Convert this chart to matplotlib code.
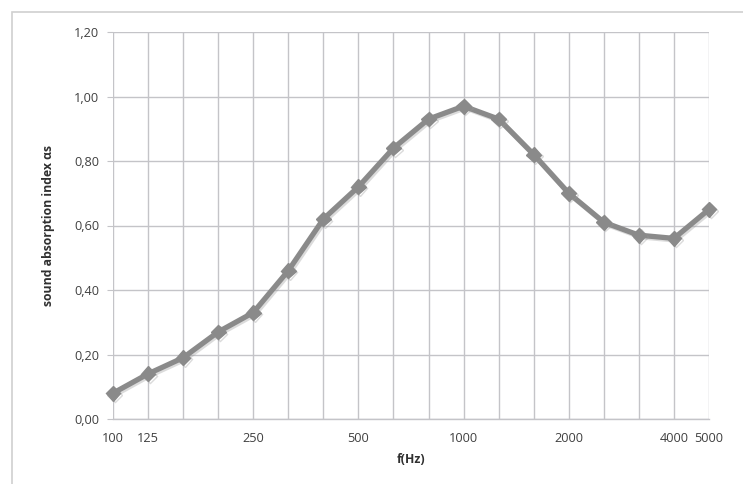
import matplotlib
matplotlib.use("Agg")
import matplotlib.pyplot as plt
import matplotlib.patheffects as pe
from matplotlib.patches import Rectangle

freqs = ["100", "125", "160", "200", "250", "315", "400", "500", "630", "800",
         "1000", "1250", "1600", "2000", "2500", "3150", "4000", "5000"]
shown_labels = ["100", "125", "", "", "250", "", "", "500", "", "",
                "1000", "", "", "2000", "", "", "4000", "5000"]
alpha_s = [0.08, 0.14, 0.19, 0.27, 0.33, 0.46, 0.62, 0.72, 0.84, 0.93,
           0.97, 0.93, 0.82, 0.70, 0.61, 0.57, 0.56, 0.65]
yticks = [0.0, 0.2, 0.4, 0.6, 0.8, 1.0, 1.2]

plt.rcParams['font.family'] = ['Open Sans', 'DejaVu Sans']

W, H = 743, 484
fig = plt.figure(figsize=(W / 100, H / 100), dpi=100)
fig.patch.set_facecolor("white")

# outer chart border (right and bottom edges fall outside the image)
fig.add_artist(Rectangle((12 / W, -0.05), 1.0, 1.05 - 12 / H,
                         transform=fig.transFigure, fill=False,
                         edgecolor="#d0d0d0", linewidth=1.2))

ax = fig.add_axes([113 / W, 1 - 419 / H, (709 - 113) / W, (419 - 32) / H])
x = list(range(len(freqs)))

grid_c = "#c4c4c8"
ax.set_xlim(0, len(freqs) - 1)
ax.set_ylim(0, 1.2)
ax.set_xticks(x)
ax.set_xticklabels(shown_labels)
ax.set_yticks(yticks)
ax.set_yticklabels([f"{v:.2f}".replace(".", ",") for v in yticks])
ax.grid(True, color=grid_c, linewidth=1.0)
ax.set_axisbelow(True)
for s in ["top", "right", "left"]:
    ax.spines[s].set_visible(False)
ax.spines["bottom"].set_color(grid_c)
ax.spines["bottom"].set_linewidth(1.0)
ax.tick_params(axis="x", length=0, pad=9, labelsize=9.2, labelcolor="#404040")
ax.tick_params(axis="y", length=4, color=grid_c, direction="out", pad=6,
               labelsize=9.2, labelcolor="#404040")

ax.plot(x, alpha_s, color="#8a8a8a", linewidth=3.8, marker="D",
        markersize=7.5, markerfacecolor="#8a8a8a", markeredgecolor="#8a8a8a",
        clip_on=False, zorder=3,
        path_effects=[pe.SimpleLineShadow(offset=(1.2, -1.2), shadow_color="#9a9a9a", alpha=0.35),
                      pe.Normal()])

ax.set_xlabel("f(Hz)", fontsize=8.8, fontweight="bold", color="#303030", labelpad=6)
ax.set_ylabel("sound absorption index αs", fontsize=8.8, fontweight="bold",
              color="#303030", labelpad=14)

fig.savefig("out.png", dpi=100, facecolor="white")
